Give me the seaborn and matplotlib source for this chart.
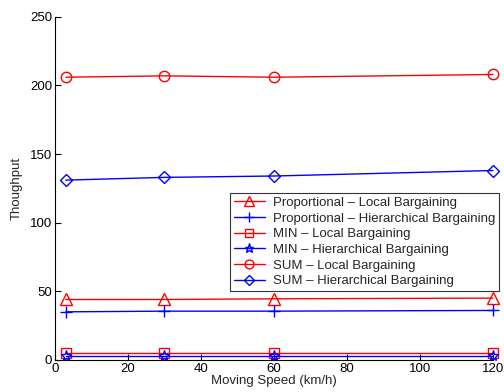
import pandas as pd
import numpy as np

import matplotlib
matplotlib.use("Agg")
import matplotlib.pyplot as plt
import seaborn as sns

sns.set_style("white")
plt.rcParams['font.family'] = ['Liberation Sans', 'DejaVu Sans']

# DATA

speed = [3, 30, 60, 120]

prop_local = [44, 44, 44.5, 45]
prop_hier = [35, 35.5, 35.5, 36]
min_local = [5, 5, 5, 5]
min_hier = [3, 3, 3, 3]
sum_local = [206, 207, 206, 208]
sum_hier = [131, 133, 134, 138]

labels = [
    'Proportional \u2013 Local Bargaining',
    'Proportional \u2013 Hierarchical Bargaining',
    'MIN \u2013 Local Bargaining',
    'MIN \u2013 Hierarchical Bargaining',
    'SUM \u2013 Local Bargaining',
    'SUM \u2013 Hierarchical Bargaining',
]
series = [prop_local, prop_hier, min_local, min_hier, sum_local, sum_hier]
colors = ['red', 'blue', 'red', 'blue', 'red', 'blue']
markers = ['^', '+', 's', '*', 'o', 'D']
sizes = [8, 9, 6.5, 8, 7.5, 6.5]

fig = plt.figure(figsize=(5.04, 3.92), dpi=100)
ax = fig.add_axes([0.109, 0.082, 0.869, 0.875])

for lab, vals, c, m, ms in zip(labels, series, colors, markers, sizes):
    df = pd.DataFrame({'speed': speed, 'val': vals})
    sns.lineplot(
        data=df,
        x='speed',
        y='val',
        ax=ax,
        color=c,
        marker=m,
        markersize=ms,
        markerfacecolor='none',
        markeredgecolor=c,
        markeredgewidth=1.0,
        linewidth=1.0,
        label=lab,
        clip_on=False
    )

ax.set_xlim(0, 120)
ax.set_ylim(0, 250)
ax.set_xticks([0, 20, 40, 60, 80, 100, 120])
ax.set_yticks([0, 50, 100, 150, 200, 250])
ax.tick_params(bottom=True, left=True, direction='in', length=4,
               width=0.8, labelsize=9.5, colors='black', pad=2)
ax.set_xlabel('Moving Speed (km/h)', fontsize=9.5, labelpad=0)
ax.set_ylabel('Thoughput', fontsize=9.5, labelpad=5)
ax.spines['top'].set_visible(False)
ax.spines['right'].set_visible(False)
for s in ['left', 'bottom']:
    ax.spines[s].set_color('black')
    ax.spines[s].set_linewidth(0.8)

leg = ax.legend(
    loc='upper right',
    bbox_to_anchor=(1.015, 0.487),
    fontsize=9.5,
    frameon=True,
    fancybox=False,
    borderpad=0.3,
    labelspacing=0.26,
    handlelength=2.4,
    handletextpad=0.6,
    borderaxespad=0
)
leg.get_frame().set_edgecolor('black')
leg.get_frame().set_linewidth(0.8)
for h in leg.legend_handles:
    h.set_markersize(h.get_markersize() * 0.85)

plt.savefig('out.png', dpi=100)
